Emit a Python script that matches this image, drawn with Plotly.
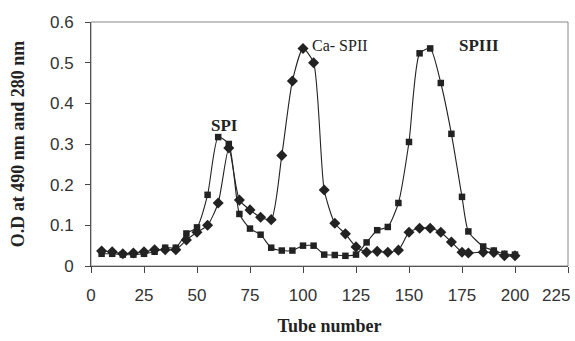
import plotly.graph_objects as go

# Square series
sq_x = [5, 10, 15, 20, 25, 30, 35, 40, 45, 50, 55, 60, 65, 70, 75, 80, 85, 90, 95, 100,
        105, 110, 115, 120, 125, 130, 135, 140, 145, 150, 155, 160, 165, 170, 175, 178,
        185, 190, 195, 200]
sq_y = [0.03, 0.03, 0.028, 0.028, 0.03, 0.035, 0.045, 0.045, 0.08, 0.095, 0.175, 0.317,
        0.30, 0.128, 0.092, 0.077, 0.045, 0.038, 0.038, 0.05, 0.05, 0.028, 0.027, 0.025,
        0.028, 0.058, 0.088, 0.096, 0.155, 0.305, 0.523, 0.535, 0.45, 0.325, 0.17, 0.085,
        0.048, 0.038, 0.03, 0.028]

# Diamond series
di_x = [5, 10, 15, 20, 25, 30, 35, 40, 45, 50, 55, 60, 65, 70, 75, 80, 85, 90, 95, 100,
        105, 110, 115, 120, 125, 130, 135, 140, 145, 150, 155, 160, 165, 170, 175, 178,
        185, 190, 195, 200]
di_y = [0.037, 0.035, 0.03, 0.032, 0.035, 0.04, 0.04, 0.04, 0.064, 0.083, 0.1, 0.155,
        0.29, 0.162, 0.138, 0.12, 0.114, 0.272, 0.455, 0.535, 0.5, 0.187, 0.105, 0.079,
        0.047, 0.034, 0.036, 0.034, 0.039, 0.083, 0.093, 0.093, 0.083, 0.059, 0.034, 0.032,
        0.034, 0.033, 0.025, 0.025]

x_ticks = [0, 25, 50, 75, 100, 125, 150, 175, 200, 225]
x_tick_text = ["0", "25", "50", "75", "100", "125", "150", "175", "200", ""]
last_x_tick = 225
last_x_label = "225"
y_ticks = [0, 0.1, 0.2, 0.3, 0.4, 0.5, 0.6]
y_tick_text = ["0", "0.1", "0.2", "0.3", "0.4", "0.5", "0.6"]

peak_labels = ["<b>SPI</b>", "Ca- SPII", "<b>SPIII</b>"]
peak_x = [63, 117.5, 183]
peak_y = [0.346, 0.543, 0.543]
peak_size = [17, 16, 17]

fig = go.Figure()
fig.add_trace(go.Scatter(x=sq_x, y=sq_y, mode="lines+markers",
                         line=dict(color="#222", width=1.1, shape="spline", smoothing=0.6),
                         marker=dict(symbol="square", size=6.5, color="#222")))
fig.add_trace(go.Scatter(x=di_x, y=di_y, mode="lines+markers",
                         line=dict(color="#222", width=1.1, shape="spline", smoothing=0.6),
                         marker=dict(symbol="diamond", size=8.5, color="#222")))

for t, xx, yy, fs in zip(peak_labels, peak_x, peak_y, peak_size):
    fig.add_annotation(x=xx, y=yy, text=t, showarrow=False,
                       font=dict(family="Liberation Serif", size=fs, color="#222"),
                       xanchor="center", yanchor="middle")

# last x tick label, right-aligned so it stays inside the picture
fig.add_annotation(x=last_x_tick, xref="x", y=0, yref="paper", text=last_x_label,
                   showarrow=False, xanchor="right", yanchor="middle", xshift=4, yshift=-29,
                   font=dict(family="Liberation Sans", size=17, color="#333"))

fig.add_shape(type="rect", xref="paper", yref="paper", x0=0, y0=0, x1=1, y1=1,
              line=dict(color="#888", width=1))

fig.update_layout(
    width=575, height=341,
    margin=dict(l=91, r=7, t=22, b=75, autoexpand=False),
    paper_bgcolor="white", plot_bgcolor="white",
    showlegend=False,
    xaxis=dict(range=[0, 225], tickvals=x_ticks, ticktext=x_tick_text, ticks="outside",
               ticklen=6, ticklabelstandoff=8, automargin=False,
               showline=True, linecolor="#222", linewidth=1, showgrid=False, zeroline=False,
               tickfont=dict(family="Liberation Sans", size=17, color="#333"),
               title=dict(text="<b>Tube number</b>", standoff=14,
                          font=dict(family="Liberation Serif", size=18, color="#222"))),
    yaxis=dict(range=[0, 0.6], tickvals=y_ticks, ticktext=y_tick_text, ticks="outside",
               ticklen=5, ticklabelstandoff=8, automargin=False,
               showline=True, linecolor="#222", linewidth=1, showgrid=False, zeroline=False,
               tickfont=dict(family="Liberation Sans", size=17, color="#333"),
               title=dict(text="<b>O.D at 490 nm and 280 nm</b>", standoff=20,
                          font=dict(family="Liberation Serif", size=18, color="#222"))),
)

fig.write_html("out.html", config={"displayModeBar": False},
               post_script="document.body.style.margin='0';"
                           "document.documentElement.style.overflow='hidden';")
